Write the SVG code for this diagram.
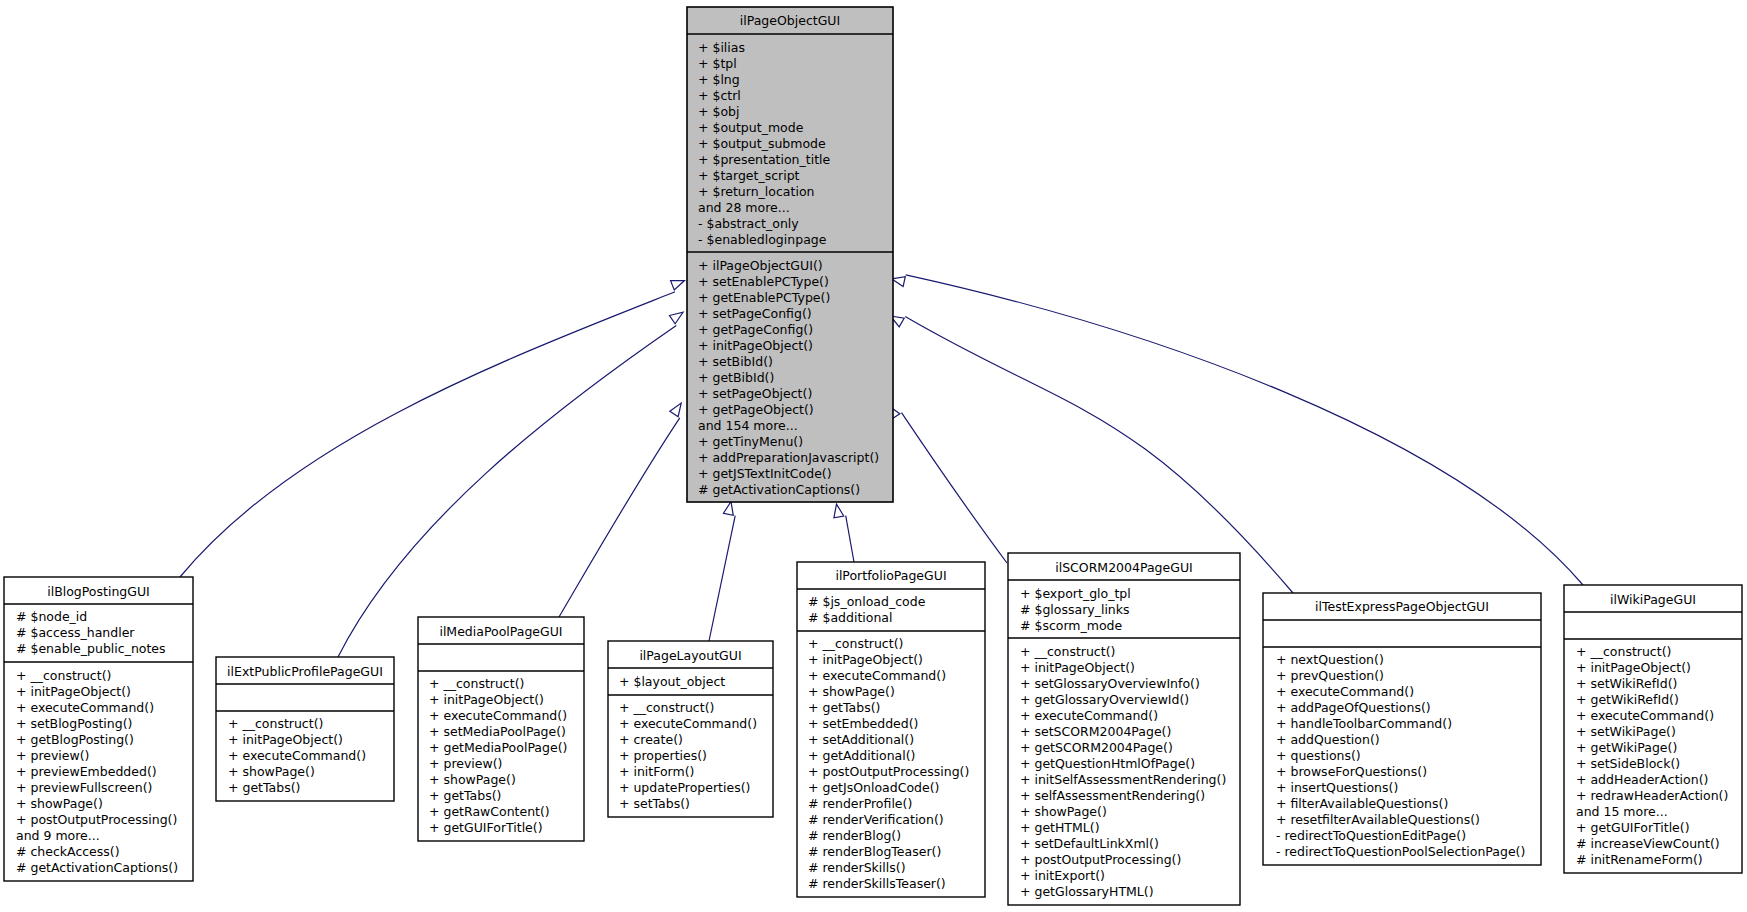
<svg xmlns="http://www.w3.org/2000/svg" width="1747" height="912" viewBox="0 0 1747 912">
<style>
text { font-family: "DejaVu Sans", "Liberation Sans", sans-serif; font-size: 12.5px; fill: #000; }
.c { text-anchor: middle; }
.box { fill: #fff; stroke: #000; stroke-width: 1.4; }
.base { fill: #bfbfbf; stroke: #000; stroke-width: 1.6; }
.sep { stroke: #000; stroke-width: 1.6; }
.e { fill: none; stroke: #191970; stroke-width: 1.2; marker-end: url(#tri); }
</style>
<defs>
<marker id="tri" markerUnits="userSpaceOnUse" markerWidth="16" markerHeight="14" refX="0" refY="7" viewBox="-1 -7 16 14" orient="auto" overflow="visible">
<path d="M0,-5 L13,0 L0,5 Z" fill="#fff" stroke="#191970" stroke-width="1.2"/>
</marker>
</defs>
<rect width="1747" height="912" fill="#fff"/>

<g id="connectors">
<path class="e" d="M180,577 C295,438 507.6,358.2 675,291.8"/>
<path class="e" d="M338,657 C405.5,523.5 552.8,410.6 676.3,325.4"/>
<path class="e" d="M559,617 C596.9,552.4 638.2,480.2 679.8,417.8"/>
<path class="e" d="M709,641 L735.2,515.7"/>
<path class="e" d="M854,562 L845.7,515.7"/>
<path class="e" d="M1007,563 C975,520 930,455 901.5,412.6"/>
<path class="e" d="M1293,593 C1131,402.5 1069,412 905.2,316.5"/>
<path class="e" d="M1583,585 C1453,433 1148,328 905.7,274.8"/>
</g>

<g id="ilPageObjectGUI">
<rect class="base" x="687" y="7" width="206" height="495"/>
<line class="sep" x1="687" y1="34" x2="893" y2="34"/>
<line class="sep" x1="687" y1="252" x2="893" y2="252"/>
<text class="c" x="790" y="24.5">ilPageObjectGUI</text>
<text x="698" y="51.5">+ $ilias</text>
<text x="698" y="67.5">+ $tpl</text>
<text x="698" y="83.5">+ $lng</text>
<text x="698" y="99.5">+ $ctrl</text>
<text x="698" y="115.5">+ $obj</text>
<text x="698" y="131.5">+ $output_mode</text>
<text x="698" y="147.5">+ $output_submode</text>
<text x="698" y="163.5">+ $presentation_title</text>
<text x="698" y="179.5">+ $target_script</text>
<text x="698" y="195.5">+ $return_location</text>
<text x="698" y="211.5">and 28 more...</text>
<text x="698" y="227.5">- $abstract_only</text>
<text x="698" y="243.5">- $enabledloginpage</text>
<text x="698" y="269.5">+ ilPageObjectGUI()</text>
<text x="698" y="285.5">+ setEnablePCType()</text>
<text x="698" y="301.5">+ getEnablePCType()</text>
<text x="698" y="317.5">+ setPageConfig()</text>
<text x="698" y="333.5">+ getPageConfig()</text>
<text x="698" y="349.5">+ initPageObject()</text>
<text x="698" y="365.5">+ setBibId()</text>
<text x="698" y="381.5">+ getBibId()</text>
<text x="698" y="397.5">+ setPageObject()</text>
<text x="698" y="413.5">+ getPageObject()</text>
<text x="698" y="429.5">and 154 more...</text>
<text x="698" y="445.5">+ getTinyMenu()</text>
<text x="698" y="461.5">+ addPreparationJavascript()</text>
<text x="698" y="477.5">+ getJSTextInitCode()</text>
<text x="698" y="493.5"># getActivationCaptions()</text>
</g>

<g id="ilBlogPostingGUI">
<rect class="box" x="4" y="577" width="189" height="304"/>
<line class="sep" x1="4" y1="604" x2="193" y2="604"/>
<line class="sep" x1="4" y1="662" x2="193" y2="662"/>
<text class="c" x="98.5" y="595.5">ilBlogPostingGUI</text>
<text x="16" y="620.5"># $node_id</text>
<text x="16" y="636.5"># $access_handler</text>
<text x="16" y="652.5"># $enable_public_notes</text>
<text x="16" y="680">+ __construct()</text>
<text x="16" y="696">+ initPageObject()</text>
<text x="16" y="712">+ executeCommand()</text>
<text x="16" y="728">+ setBlogPosting()</text>
<text x="16" y="744">+ getBlogPosting()</text>
<text x="16" y="760">+ preview()</text>
<text x="16" y="776">+ previewEmbedded()</text>
<text x="16" y="792">+ previewFullscreen()</text>
<text x="16" y="808">+ showPage()</text>
<text x="16" y="824">+ postOutputProcessing()</text>
<text x="16" y="840">and 9 more...</text>
<text x="16" y="856"># checkAccess()</text>
<text x="16" y="872"># getActivationCaptions()</text>
</g>

<g id="ilExtPublicProfilePageGUI">
<rect class="box" x="216" y="657" width="178" height="144"/>
<line class="sep" x1="216" y1="684" x2="394" y2="684"/>
<line class="sep" x1="216" y1="711" x2="394" y2="711"/>
<text class="c" x="305" y="675.5">ilExtPublicProfilePageGUI</text>
<text x="228" y="727.5">+ __construct()</text>
<text x="228" y="743.5">+ initPageObject()</text>
<text x="228" y="759.5">+ executeCommand()</text>
<text x="228" y="775.5">+ showPage()</text>
<text x="228" y="791.5">+ getTabs()</text>
</g>

<g id="ilMediaPoolPageGUI">
<rect class="box" x="418" y="617" width="166" height="224"/>
<line class="sep" x1="418" y1="644" x2="584" y2="644"/>
<line class="sep" x1="418" y1="671" x2="584" y2="671"/>
<text class="c" x="501" y="635.5">ilMediaPoolPageGUI</text>
<text x="429" y="687.5">+ __construct()</text>
<text x="429" y="703.5">+ initPageObject()</text>
<text x="429" y="719.5">+ executeCommand()</text>
<text x="429" y="735.5">+ setMediaPoolPage()</text>
<text x="429" y="751.5">+ getMediaPoolPage()</text>
<text x="429" y="767.5">+ preview()</text>
<text x="429" y="783.5">+ showPage()</text>
<text x="429" y="799.5">+ getTabs()</text>
<text x="429" y="815.5">+ getRawContent()</text>
<text x="429" y="831.5">+ getGUIForTitle()</text>
</g>

<g id="ilPageLayoutGUI">
<rect class="box" x="608" y="641" width="165" height="176"/>
<line class="sep" x1="608" y1="668" x2="773" y2="668"/>
<line class="sep" x1="608" y1="695" x2="773" y2="695"/>
<text class="c" x="690.5" y="659.5">ilPageLayoutGUI</text>
<text x="619" y="685.5">+ $layout_object</text>
<text x="619" y="711.5">+ __construct()</text>
<text x="619" y="727.5">+ executeCommand()</text>
<text x="619" y="743.5">+ create()</text>
<text x="619" y="759.5">+ properties()</text>
<text x="619" y="775.5">+ initForm()</text>
<text x="619" y="791.5">+ updateProperties()</text>
<text x="619" y="807.5">+ setTabs()</text>
</g>

<g id="ilPortfolioPageGUI">
<rect class="box" x="797" y="562" width="188" height="335"/>
<line class="sep" x1="797" y1="589" x2="985" y2="589"/>
<line class="sep" x1="797" y1="631" x2="985" y2="631"/>
<text class="c" x="891" y="579.5">ilPortfolioPageGUI</text>
<text x="808" y="605.5"># $js_onload_code</text>
<text x="808" y="621.5"># $additional</text>
<text x="808" y="647.5">+ __construct()</text>
<text x="808" y="663.5">+ initPageObject()</text>
<text x="808" y="679.5">+ executeCommand()</text>
<text x="808" y="695.5">+ showPage()</text>
<text x="808" y="711.5">+ getTabs()</text>
<text x="808" y="727.5">+ setEmbedded()</text>
<text x="808" y="743.5">+ setAdditional()</text>
<text x="808" y="759.5">+ getAdditional()</text>
<text x="808" y="775.5">+ postOutputProcessing()</text>
<text x="808" y="791.5">+ getJsOnloadCode()</text>
<text x="808" y="807.5"># renderProfile()</text>
<text x="808" y="823.5"># renderVerification()</text>
<text x="808" y="839.5"># renderBlog()</text>
<text x="808" y="855.5"># renderBlogTeaser()</text>
<text x="808" y="871.5"># renderSkills()</text>
<text x="808" y="887.5"># renderSkillsTeaser()</text>
</g>

<g id="ilSCORM2004PageGUI">
<rect class="box" x="1008" y="553" width="232" height="352"/>
<line class="sep" x1="1008" y1="580" x2="1240" y2="580"/>
<line class="sep" x1="1008" y1="638" x2="1240" y2="638"/>
<text class="c" x="1124" y="571.5">ilSCORM2004PageGUI</text>
<text x="1020" y="597.5">+ $export_glo_tpl</text>
<text x="1020" y="613.5"># $glossary_links</text>
<text x="1020" y="629.5"># $scorm_mode</text>
<text x="1020" y="655.5">+ __construct()</text>
<text x="1020" y="671.5">+ initPageObject()</text>
<text x="1020" y="687.5">+ setGlossaryOverviewInfo()</text>
<text x="1020" y="703.5">+ getGlossaryOverviewId()</text>
<text x="1020" y="719.5">+ executeCommand()</text>
<text x="1020" y="735.5">+ setSCORM2004Page()</text>
<text x="1020" y="751.5">+ getSCORM2004Page()</text>
<text x="1020" y="767.5">+ getQuestionHtmlOfPage()</text>
<text x="1020" y="783.5">+ initSelfAssessmentRendering()</text>
<text x="1020" y="799.5">+ selfAssessmentRendering()</text>
<text x="1020" y="815.5">+ showPage()</text>
<text x="1020" y="831.5">+ getHTML()</text>
<text x="1020" y="847.5">+ setDefaultLinkXml()</text>
<text x="1020" y="863.5">+ postOutputProcessing()</text>
<text x="1020" y="879.5">+ initExport()</text>
<text x="1020" y="895.5">+ getGlossaryHTML()</text>
</g>

<g id="ilTestExpressPageObjectGUI">
<rect class="box" x="1263" y="593" width="278" height="272"/>
<line class="sep" x1="1263" y1="620" x2="1541" y2="620"/>
<line class="sep" x1="1263" y1="647" x2="1541" y2="647"/>
<text class="c" x="1402" y="610.5">ilTestExpressPageObjectGUI</text>
<text x="1276" y="663.5">+ nextQuestion()</text>
<text x="1276" y="679.5">+ prevQuestion()</text>
<text x="1276" y="695.5">+ executeCommand()</text>
<text x="1276" y="711.5">+ addPageOfQuestions()</text>
<text x="1276" y="727.5">+ handleToolbarCommand()</text>
<text x="1276" y="743.5">+ addQuestion()</text>
<text x="1276" y="759.5">+ questions()</text>
<text x="1276" y="775.5">+ browseForQuestions()</text>
<text x="1276" y="791.5">+ insertQuestions()</text>
<text x="1276" y="807.5">+ filterAvailableQuestions()</text>
<text x="1276" y="823.5">+ resetfilterAvailableQuestions()</text>
<text x="1276" y="839.5">- redirectToQuestionEditPage()</text>
<text x="1276" y="855.5">- redirectToQuestionPoolSelectionPage()</text>
</g>

<g id="ilWikiPageGUI">
<rect class="box" x="1564" y="585" width="178" height="288"/>
<line class="sep" x1="1564" y1="612" x2="1742" y2="612"/>
<line class="sep" x1="1564" y1="639" x2="1742" y2="639"/>
<text class="c" x="1653" y="603.5">ilWikiPageGUI</text>
<text x="1576" y="655.5">+ __construct()</text>
<text x="1576" y="671.5">+ initPageObject()</text>
<text x="1576" y="687.5">+ setWikiRefId()</text>
<text x="1576" y="703.5">+ getWikiRefId()</text>
<text x="1576" y="719.5">+ executeCommand()</text>
<text x="1576" y="735.5">+ setWikiPage()</text>
<text x="1576" y="751.5">+ getWikiPage()</text>
<text x="1576" y="767.5">+ setSideBlock()</text>
<text x="1576" y="783.5">+ addHeaderAction()</text>
<text x="1576" y="799.5">+ redrawHeaderAction()</text>
<text x="1576" y="815.5">and 15 more...</text>
<text x="1576" y="831.5">+ getGUIForTitle()</text>
<text x="1576" y="847.5"># increaseViewCount()</text>
<text x="1576" y="863.5"># initRenameForm()</text>
</g>
</svg>
